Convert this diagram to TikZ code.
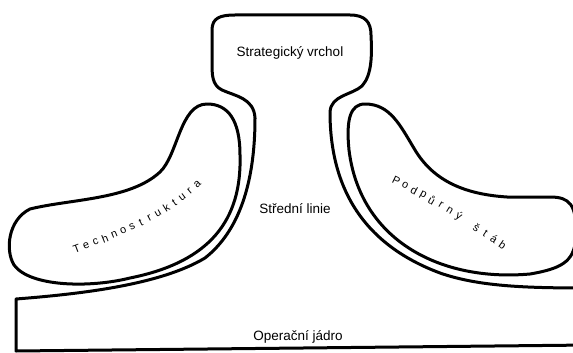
\documentclass[tikz,border=0pt]{standalone}
\usepackage{fontspec}
\setmainfont{Liberation Sans}
\usetikzlibrary{positioning}

\begin{document}
\begin{tikzpicture}[x=1pt, y=-1pt,
    part/.style={draw=black, line width=3pt, line join=round, fill=white},
    label/.style={font=\fontsize{13.5}{16}\selectfont, inner sep=0pt},
    letter/.style={font=\fontsize{11}{13}\selectfont, inner sep=0pt, sloped}
]
    \clip (0,0) rectangle (573,353);
    \fill[white] (0,0) rectangle (573,353);

    % apex, middle line and operating core in one outline
    \draw[part] (16,351) -- (16,299)
        .. controls (80,294) and (160,285) .. (205,258)
        .. controls (238,232) and (255,185) .. (255,118)
        .. controls (254,98) and (235,96) .. (222,90)
        .. controls (212,85) and (212,75) .. (212,62)
        -- (212,30) .. controls (212,18) and (220,15) .. (235,15)
        -- (350,15) .. controls (365,15) and (371,22) .. (371,35)
        .. controls (372,55) and (372,75) .. (362,86)
        .. controls (352,95) and (331,95) .. (330,112)
        .. controls (330,190) and (365,245) .. (440,273)
        .. controls (480,287) and (530,288) .. (590,288)
        -- (590,345) -- cycle;

    % technostructure
    \draw[part] (207,104) .. controls (228,104) and (240,120) .. (240,155)
        .. controls (242,220) and (210,262) .. (130,278)
        .. controls (90,288) and (30,287) .. (14,265)
        .. controls (5,250) and (8,220) .. (30,209)
        .. controls (70,199) and (130,200) .. (160,172)
        .. controls (178,155) and (180,104) .. (207,104) -- cycle;

    % support staff
    \draw[part] (365,104) .. controls (390,104) and (400,125) .. (415,150)
        .. controls (432,178) and (460,194) .. (507,197)
        -- (550,197) .. controls (570,197) and (576,205) .. (576,232)
        .. controls (576,260) and (565,268) .. (530,274)
        .. controls (440,282) and (360,240) .. (349,150)
        .. controls (346,120) and (350,104) .. (365,104) -- cycle;

    \node[label] (apex) at (290,53) {Strategický vrchol};
    \node[label] (midline) at (295,209) {Střední linie};
    \node[label] (core) at (298,337) {Operační jádro};

    \foreach \ch [count=\i, evaluate=\i as \p using (\i-0.5)/15] in {T,e,c,h,n,o,s,t,r,u,k,t,u,r,a}
        \path (72,251) .. controls (120,233) and (165,216) .. (201,181)
            node[letter, pos=\p] (tech\i) {\ch};

    \foreach \ch [count=\i, evaluate=\i as \p using (\i-0.5)/13] in {P,o,d,p,ů,r,n,ý,{},š,t,á,b}
        \path (392,179) .. controls (430,197) and (470,222) .. (507,248)
            node[letter, pos=\p] (staff\i) {\ch};
\end{tikzpicture}
\end{document}
